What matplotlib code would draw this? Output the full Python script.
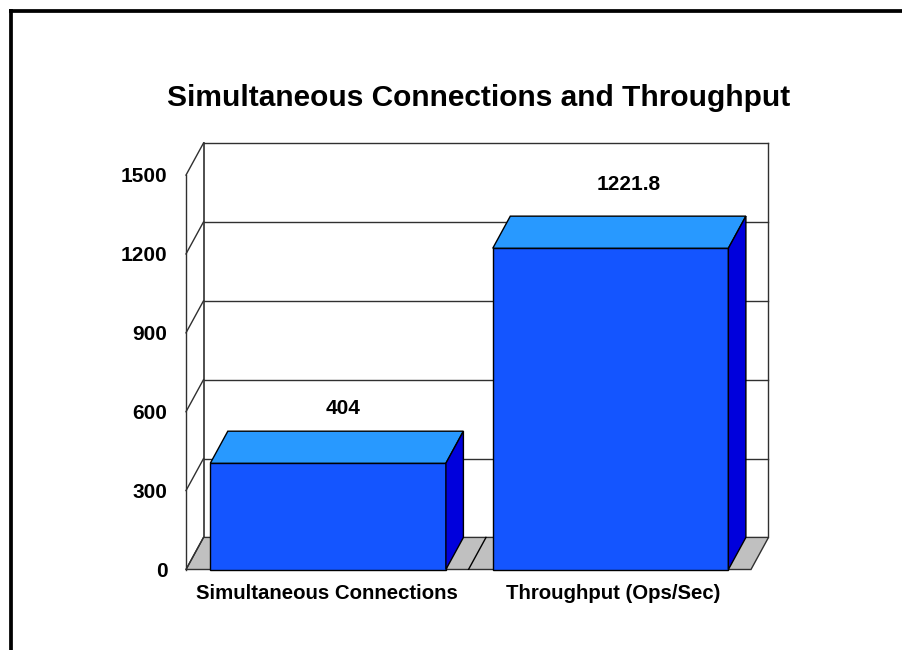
import matplotlib
matplotlib.use('Agg')
import matplotlib.pyplot as plt
from matplotlib.lines import Line2D
from matplotlib.patches import Polygon

plt.rcParams['font.family'] = ['Liberation Sans', 'DejaVu Sans']

title = 'Simultaneous Connections and Throughput'
categories = ['Simultaneous Connections', 'Throughput (Ops/Sec)']
values = [404, 1221.8]
value_labels = ['404', '1221.8']
y_ticks = [0, 300, 600, 900, 1200, 1500]

W, H = 903, 650
# plot box in pixels, depth of the fake 3d
left, right, bottom, top = 186, 768.5, 569.5, 143
depth_x = 0.062
depth_y = 122
bar_w = 0.834

# label nudges, data units
label_dx = [0.053, 0.065]
label_dy = [88, 120]
cat_x = [0.4995, 1.511]

fig = plt.figure(figsize=(W / 100, H / 100), dpi=100)
ax = fig.add_axes([left / W, 1 - bottom / H, (right - left) / W, (bottom - top) / H])
ax.set_xlim(0, 2 + depth_x)
ax.set_ylim(0, 1500 + depth_y)
ax.axis('off')

edge = '#303030'
thin = 1.0


def poly(pts, color, z, ec='black'):
    ax.add_patch(Polygon(pts, closed=True, fc=color, ec=ec, lw=thin, zorder=z, clip_on=False))


# floor
poly([(0, 0), (2, 0), (2 + depth_x, depth_y), (depth_x, depth_y)], '#C0C0C0', 1, edge)
ax.plot([1, 1 + depth_x], [0, depth_y], color='black', lw=thin, zorder=2)

# walls and gridlines
for t in y_ticks:
    ax.plot([0, depth_x], [t, t + depth_y], color=edge, lw=thin, zorder=2, clip_on=False)
    if t > 0:
        ax.plot([depth_x, 2 + depth_x], [t + depth_y, t + depth_y], color=edge, lw=thin, zorder=2, clip_on=False)
ax.plot([0, 0], [0, 1500], color=edge, lw=thin, zorder=2, clip_on=False)
ax.plot([depth_x, depth_x], [depth_y, 1500 + depth_y], color=edge, lw=1.2, zorder=2, clip_on=False)
ax.plot([2 + depth_x, 2 + depth_x], [depth_y, 1500 + depth_y], color=edge, lw=thin, zorder=2, clip_on=False)

# bars
for i, v in enumerate(values):
    x0 = i + 0.503 - bar_w / 2
    x1 = x0 + bar_w
    poly([(x0, 0), (x1, 0), (x1, v), (x0, v)], '#1455FF', 3)
    poly([(x0, v), (x1, v), (x1 + depth_x, v + depth_y), (x0 + depth_x, v + depth_y)], '#2899FF', 3)
    poly([(x1, 0), (x1 + depth_x, depth_y), (x1 + depth_x, v + depth_y), (x1, v)], '#0000DC', 3)
    ax.text(i + 0.503 + label_dx[i], v + depth_y + label_dy[i], value_labels[i], ha='center', va='center',
            fontsize=15, fontweight='bold', color='black', zorder=4)
    ax.text(cat_x[i], -92, categories[i], ha='center', va='center',
            fontsize=14.7, fontweight='bold', color='black')

for t in y_ticks:
    ax.text(-0.066, t - 6, str(t), ha='right', va='center', fontsize=15, fontweight='bold', color='black')

fig.text(479 / W, 1 - 98 / H, title, ha='center', va='center', fontsize=21.5, fontweight='bold', color='black')

# page frame, top and left only
fig.add_artist(Line2D([11 / W, 11 / W], [0, 1 - 9 / H], color='black', lw=2.7, solid_capstyle='butt'))
fig.add_artist(Line2D([9 / W, 1], [1 - 11 / H, 1 - 11 / H], color='black', lw=2.7, solid_capstyle='butt'))

fig.savefig('out.png', dpi=100)
